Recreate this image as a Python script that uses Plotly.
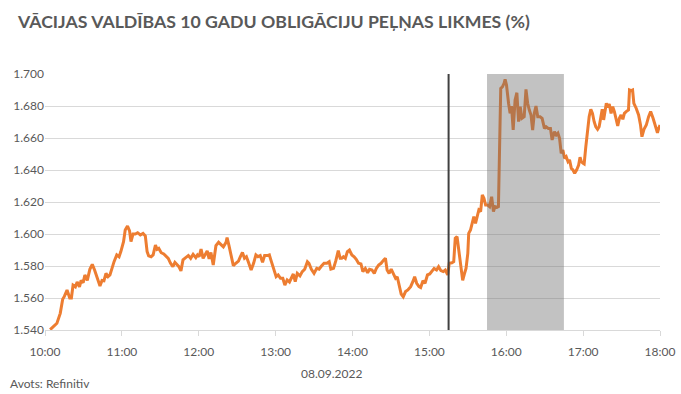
import pandas as pd
import plotly.graph_objects as go

TITLE = "VĀCIJAS VALDĪBAS 10 GADU OBLIGĀCIJU PEĻŅAS LIKMES (%)"
DATE_LABEL = "08.09.2022"
SOURCE = "Avots: Refinitiv"
DAY = "2022-09-08"
SESSION_START = "10:00"
SESSION_END = "18:00"
EVENT_TIME = "15:15"
SHADE_START = "15:45"
SHADE_END = "16:45"
Y_MIN, Y_MAX, Y_STEP = 1.54, 1.70, 0.02

# minutes after 10:00
minutes = [
    4.0, 9.3, 11.9, 13.8, 15.1, 17.2, 19.3, 20.6, 21.9, 23.7, 25.1, 26.9, 28.2, 29.8, 31.1, 33.0,
    35.0, 36.9, 38.7, 40.8, 42.9, 44.5, 46.0, 47.6, 49.2, 50.7, 52.6, 53.9, 56.0, 57.8, 59.2, 61.3,
    62.6, 64.4, 66.0, 67.1, 68.7, 70.5, 72.3, 74.4, 76.5, 78.3, 79.7, 80.9, 82.8, 84.4, 86.2, 87.5,
    88.8, 90.7, 92.7, 96.2, 98.0, 99.8, 101.4, 103.3, 104.5, 106.1, 107.7, 109.8, 111.9, 113.7,
    115.6, 117.7, 119.0, 120.3, 121.8, 123.4, 125.0, 126.6, 128.1, 129.5, 131.3, 133.4, 135.5,
    137.3, 139.2, 141.3, 142.1, 143.6, 145.2, 147.0, 148.9, 151.0, 152.5, 154.1, 155.7, 157.2,
    158.8, 160.9, 162.8, 164.6, 166.2, 168.0, 169.8, 171.4, 173.3, 175.1, 176.7, 178.5, 180.4,
    182.0, 183.8, 185.6, 187.2, 189.0, 190.8, 193.8, 195.3, 196.9, 199.0, 200.8, 202.7, 204.8,
    206.0, 207.9, 210.0, 212.1, 213.9, 215.8, 217.8, 220.0, 221.8, 223.1, 225.2, 227.0, 228.9,
    230.4, 231.6, 232.9, 234.4, 236.0, 237.6, 239.5, 241.3, 242.9, 244.7, 246.6, 248.1, 250.0,
    251.8, 253.3, 255.2, 257.0, 258.6, 260.4, 262.3, 264.4, 265.7, 267.0, 268.6, 270.2, 271.7,
    273.6, 274.9, 276.5, 278.0, 279.6, 281.4, 283.2, 285.4, 287.5, 288.5, 290.1, 291.9, 293.2,
    295.0, 296.6, 298.5, 300.3, 301.9, 303.7, 305.6, 307.2, 309.0, 310.8, 312.4, 314.3, 315.5,
    317.6, 319.0, 320.2, 321.6, 322.6, 324.2, 326.0, 327.3, 328.6, 330.0, 330.7, 332.1, 333.4,
    334.7, 336.0, 337.4, 338.6, 340.0, 341.3, 342.6, 343.9, 345.5, 347.0, 348.6, 350.0, 351.2,
    352.8, 353.9, 354.9, 355.7, 357.0, 358.3, 359.1, 360.2, 361.8, 363.0, 364.1, 365.4, 366.9,
    368.3, 369.6, 370.9, 372.2, 374.0, 375.4, 376.7, 378.0, 379.3, 380.6, 381.9, 383.2, 384.6,
    386.4, 388.0, 389.8, 391.1, 392.9, 394.5, 395.8, 397.6, 399.0, 400.3, 401.6, 402.9, 404.2,
    405.5, 406.8, 408.2, 409.4, 410.8, 412.1, 413.4, 414.9, 416.5, 417.6, 418.6, 420.0, 420.8,
    422.1, 423.4, 424.7, 426.0, 427.3, 428.6, 429.9, 431.3, 432.5, 433.9, 434.9, 436.0, 437.0,
    438.1, 439.2, 440.4, 441.8, 443.1, 444.4, 445.7, 447.0, 448.3, 449.6, 451.0, 452.2, 453.6,
    455.4, 456.2, 457.5, 458.6, 459.6, 461.4, 463.3, 464.8, 465.9, 467.5, 469.3, 471.1, 472.7,
    474.6, 476.4, 478.0, 479.0, 480.0,
]

yields = [
    1.5402, 1.5442, 1.5504, 1.5592, 1.5610, 1.5650, 1.5600, 1.5600, 1.5680, 1.5670, 1.5700, 1.5670,
    1.5710, 1.5696, 1.5744, 1.5710, 1.5779, 1.5810, 1.5775, 1.5723, 1.5675, 1.5710, 1.5708, 1.5754,
    1.5733, 1.5744, 1.5796, 1.5827, 1.5869, 1.5858, 1.5890, 1.5952, 1.6025, 1.6050, 1.6020, 1.5952,
    1.6000, 1.6000, 1.6008, 1.5994, 1.6004, 1.5988, 1.5890, 1.5863, 1.5858, 1.5869, 1.5931, 1.5904,
    1.5910, 1.5883, 1.5875, 1.5848, 1.5817, 1.5796, 1.5823, 1.5810, 1.5796, 1.5769, 1.5838, 1.5852,
    1.5865, 1.5848, 1.5873, 1.5852, 1.5869, 1.5858, 1.5906, 1.5848, 1.5873, 1.5894, 1.5844, 1.5885,
    1.5806, 1.5927, 1.5948, 1.5935, 1.5920, 1.5948, 1.5977, 1.5927, 1.5869, 1.5802, 1.5817, 1.5831,
    1.5858, 1.5885, 1.5848, 1.5858, 1.5823, 1.5775, 1.5817, 1.5869, 1.5858, 1.5865, 1.5823, 1.5865,
    1.5865, 1.5869, 1.5827, 1.5785, 1.5733, 1.5744, 1.5723, 1.5723, 1.5681, 1.5713, 1.5700, 1.5750,
    1.5702, 1.5754, 1.5738, 1.5765, 1.5780, 1.5827, 1.5817, 1.5780, 1.5754, 1.5785, 1.5780, 1.5800,
    1.5817, 1.5817, 1.5827, 1.5780, 1.5785, 1.5833, 1.5896, 1.5848, 1.5848, 1.5858, 1.5848, 1.5890,
    1.5900, 1.5869, 1.5858, 1.5842, 1.5817, 1.5813, 1.5765, 1.5785, 1.5758, 1.5780, 1.5775, 1.5754,
    1.5785, 1.5806, 1.5817, 1.5838, 1.5848, 1.5775, 1.5754, 1.5780, 1.5754, 1.5723, 1.5733, 1.5681,
    1.5625, 1.5608, 1.5640, 1.5650, 1.5671, 1.5710, 1.5733, 1.5692, 1.5671, 1.5665, 1.5708, 1.5692,
    1.5744, 1.5750, 1.5765, 1.5785, 1.5775, 1.5796, 1.5771, 1.5765, 1.5775, 1.5744, 1.5817, 1.5820,
    1.5827, 1.5973, 1.5983, 1.5920, 1.5796, 1.5710, 1.5750, 1.5785, 1.5879, 1.6004, 1.6025, 1.6067,
    1.6108, 1.6067, 1.6108, 1.6150, 1.6140, 1.6244, 1.6223, 1.6181, 1.6181, 1.6171, 1.6233, 1.6140,
    1.6171, 1.6167, 1.6171, 1.6608, 1.6910, 1.6920, 1.6942, 1.6967, 1.6931, 1.6817, 1.6754, 1.6800,
    1.6650, 1.6838, 1.6883, 1.6702, 1.6796, 1.6723, 1.6733, 1.6904, 1.6817, 1.6775, 1.6744, 1.6650,
    1.6754, 1.6800, 1.6733, 1.6733, 1.6723, 1.6660, 1.6670, 1.6660, 1.6660, 1.6588, 1.6640, 1.6619,
    1.6630, 1.6598, 1.6504, 1.6525, 1.6473, 1.6483, 1.6452, 1.6463, 1.6410, 1.6400, 1.6379, 1.6400,
    1.6431, 1.6480, 1.6452, 1.6442, 1.6438, 1.6546, 1.6650, 1.6733, 1.6780, 1.6754, 1.6702, 1.6670,
    1.6654, 1.6670, 1.6733, 1.6780, 1.6713, 1.6780, 1.6817, 1.6792, 1.6813, 1.6754, 1.6796, 1.6765,
    1.6713, 1.6675, 1.6723, 1.6744, 1.6717, 1.6754, 1.6765, 1.6775, 1.6900, 1.6896, 1.6900, 1.6817,
    1.6786, 1.6744, 1.6681, 1.6608, 1.6654, 1.6681, 1.6733, 1.6765, 1.6723, 1.6670, 1.6633, 1.6660,
    1.6681,
]

base = pd.Timestamp(f"{DAY} {SESSION_START}")
times = base + pd.to_timedelta(minutes, unit="min")

def at(hhmm):
    return pd.Timestamp(f"{DAY} {hhmm}")

FONT = "Lato, 'Open Sans', sans-serif"
GREY_TXT = "#595959"
GRID = "#D9D9D9"

L, R, T, B = 45, 21, 74, 64
PW, PH = 681 - L - R, 394 - T - B

fig = go.Figure()
fig.add_trace(go.Scatter(
    x=times, y=yields, mode="lines",
    line=dict(color="#ED7D31", width=3),
    hoverinfo="skip", showlegend=False,
))

fig.add_shape(type="rect", xref="x", yref="y",
              x0=at(SHADE_START), x1=at(SHADE_END), y0=Y_MIN, y1=Y_MAX,
              fillcolor="rgba(110,110,110,0.42)", line=dict(width=0), layer="above")
fig.add_shape(type="line", xref="x", yref="y",
              x0=at(EVENT_TIME), x1=at(EVENT_TIME), y0=Y_MIN, y1=Y_MAX,
              line=dict(color="#404040", width=2), layer="above")

fig.update_layout(
    width=681, height=394,
    margin=dict(l=L, r=R, t=T, b=B),
    paper_bgcolor="white", plot_bgcolor="white",
    font=dict(family=FONT, size=12, color=GREY_TXT),
    title=dict(text=f"<b>{TITLE}</b>", x=18 / 681, xanchor="left",
               y=1 - 22 / 394, yanchor="middle",
               font=dict(family=FONT, size=17.7, color=GREY_TXT)),
    xaxis=dict(
        type="date", range=[at(SESSION_START), at(SESSION_END)],
        tickformat="%H:%M", dtick=3600000, tick0=at(SESSION_START),
        showgrid=False, showline=True, linecolor=GRID, linewidth=1,
        ticks="outside", ticklen=5, tickcolor=GRID,
        tickfont=dict(family=FONT, size=12, color=GREY_TXT),
        ticklabelstandoff=6, zeroline=False, automargin=False,
    ),
    yaxis=dict(
        range=[Y_MIN, Y_MAX], dtick=Y_STEP, tick0=Y_MIN, tickformat=".3f",
        showgrid=True, gridcolor=GRID, gridwidth=1, zeroline=False,
        showline=False, ticks="", automargin=False,
        tickfont=dict(family=FONT, size=12, color=GREY_TXT),
    ),
    annotations=[
        dict(text=DATE_LABEL, xref="paper", yref="paper",
             x=(331 - L) / PW, y=-(373 - 330) / PH,
             xanchor="center", yanchor="middle", showarrow=False,
             font=dict(family=FONT, size=12, color=GREY_TXT)),
        dict(text=SOURCE, xref="paper", yref="paper",
             x=-(L - 8) / PW, y=-(383 - 330) / PH,
             xanchor="left", yanchor="middle", showarrow=False,
             font=dict(family=FONT, size=12, color=GREY_TXT)),
    ],
)

fig.write_html("out.html")
